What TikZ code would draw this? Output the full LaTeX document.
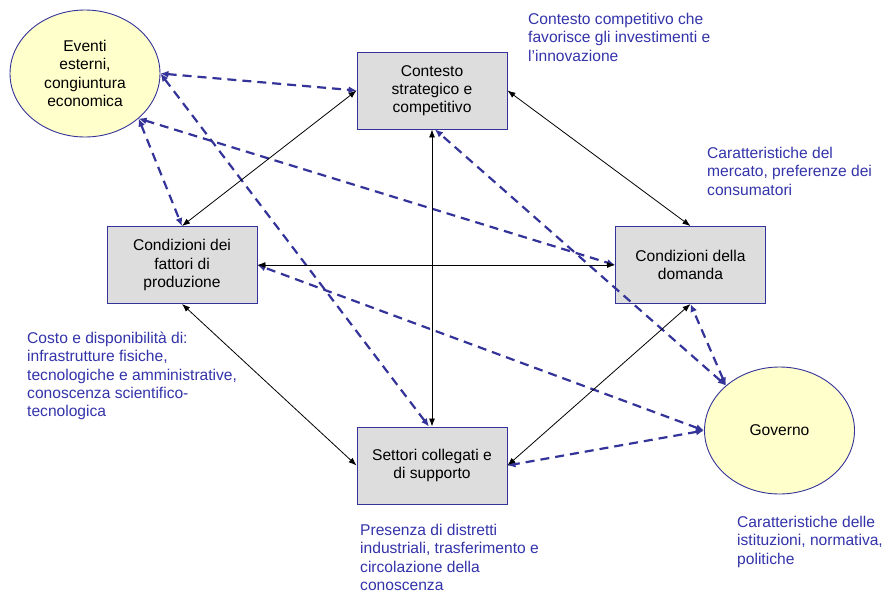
\documentclass[tikz,border=0pt]{standalone}
\usepackage{fontspec}
\setmainfont{Liberation Sans}
\usetikzlibrary{arrows.meta,shapes.geometric,calc}
\definecolor{edgeblue}{RGB}{51,51,153}
\definecolor{txtblue}{RGB}{51,51,170}
\definecolor{boxgray}{RGB}{221,221,221}
\definecolor{ellyellow}{RGB}{255,255,204}
\tikzset{
  every node/.style={font=\fontsize{15.6pt}{18.3pt}\selectfont},
  factor/.style={draw=edgeblue, line width=0.9pt, fill=boxgray, rectangle,
    minimum width=150pt, minimum height=77pt, align=center, inner sep=2pt},
  outer/.style={draw=edgeblue, line width=0.9pt, fill=ellyellow, ellipse,
    minimum width=150pt, minimum height=127pt, align=center, inner sep=0pt},
  note/.style={text=txtblue, align=left, anchor=north west, inner sep=0pt},
  solidlink/.style={black, line width=0.8pt, {Latex[length=8pt,width=6pt]}-{Latex[length=8pt,width=6pt]}},
  dashlink/.style={edgeblue, line width=2.2pt, dash pattern=on 9pt off 6pt,
    {Latex[length=8pt,width=7pt]}-{Latex[length=8pt,width=7pt]}}
}
\begin{document}
\begin{tikzpicture}[x=1pt,y=-1pt]
\useasboundingbox (0,0) rectangle (884,592);
% nodes
\node[outer] (ev) at (85,73.5) {Eventi\\esterni,\\congiuntura\\economica};
\node[outer] (gov) at (779.5,430.5) {Governo};
\node[factor] (con) at (432,90.5) {Contesto\\strategico e\\competitivo};
\node[factor] (fat) at (182,265) {Condizioni dei\\fattori di\\produzione};
\node[factor] (dom) at (690.5,265) {Condizioni della\\domanda};
\node[factor] (set) at (432,465.5) {Settori collegati e\\di supporto};
% notes
\node[note] (n1) at (528,13) {Contesto competitivo che\\favorisce gli investimenti e\\l’innovazione};
\node[note] (n2) at (707,147) {Caratteristiche del\\mercato, preferenze dei\\consumatori};
\node[note] (n3) at (27,332) {Costo e disponibilità di:\\infrastrutture fisiche,\\tecnologiche e amministrative,\\conoscenza scientifico-\\tecnologica};
\node[note] (n4) at (360,524) {Presenza di distretti\\industriali, trasferimento e\\circolazione della\\conoscenza};
\node[note] (n5) at (737,516) {Caratteristiche delle\\istituzioni, normativa,\\politiche};
% dashed links
\draw[dashlink] (ev.east) -- (con.west);
\draw[dashlink] (ev.east) -- ([xshift=-3pt]set.north);
\draw[dashlink] (ev.-40) -- (fat.north);
\draw[dashlink] (ev.-40) -- (dom.west);
\draw[dashlink] (gov.west) -- (fat.east);
\draw[dashlink] (gov.west) -- (set.east);
\draw[dashlink] (gov.140) -- (dom.south);
\draw[dashlink] (gov.140) -- ([xshift=3pt]con.south);
% solid links
\draw[solidlink] (con.west) -- (fat.north);
\draw[solidlink] (con.east) -- (dom.north);
\draw[solidlink] (fat.east) -- (dom.west);
\draw[solidlink] (con.south) -- (set.north);
\draw[solidlink] (fat.south) -- (set.west);
\draw[solidlink] (dom.south) -- (set.east);
\end{tikzpicture}
\end{document}
